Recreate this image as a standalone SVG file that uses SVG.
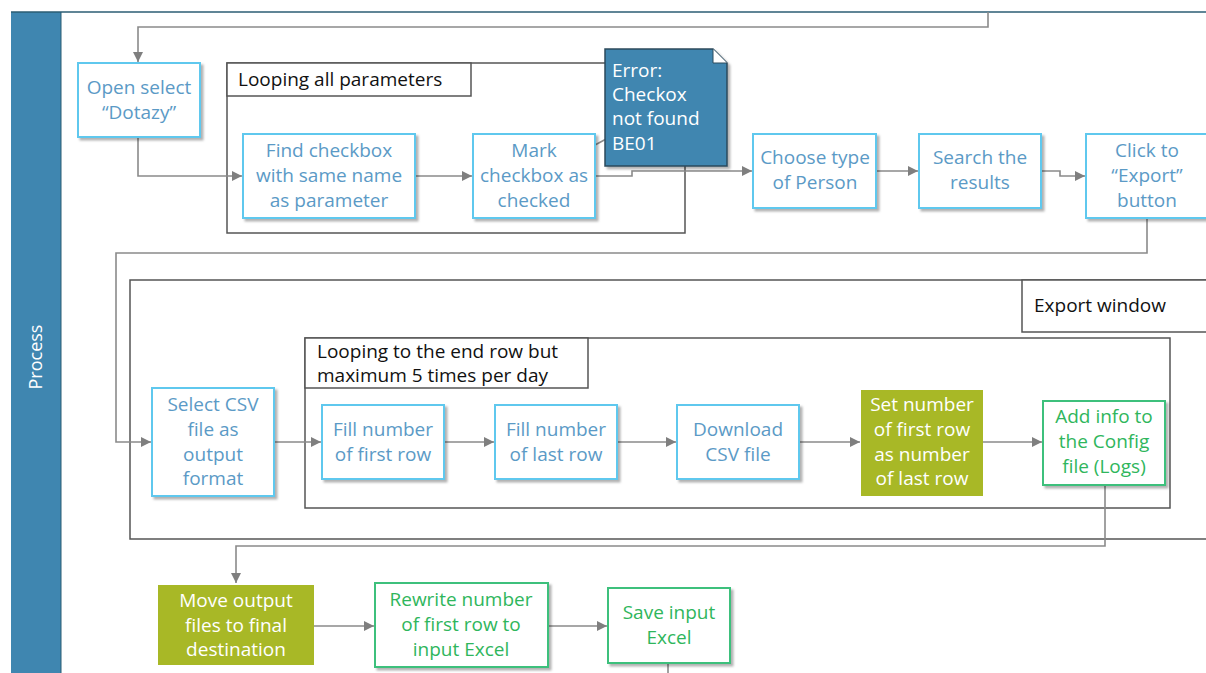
<svg xmlns="http://www.w3.org/2000/svg" width="1206" height="673" viewBox="0 0 1206 673">
<defs>
<filter id="sh" x="-10%" y="-10%" width="130%" height="130%">
<feDropShadow dx="2.5" dy="2.5" stdDeviation="1.2" flood-color="#000" flood-opacity="0.3"/>
</filter>
<marker id="ar" viewBox="0 0 10 10" refX="10" refY="5" markerWidth="10" markerHeight="10" markerUnits="userSpaceOnUse" orient="auto">
<path d="M0,0 L10,5 L0,10 z" fill="#7f7f7f"/>
</marker>
</defs>
<style>
text{font-family:"Open Sans","Noto Sans","Liberation Sans",sans-serif}
.b{fill:#fff;stroke:#5ec8ee;stroke-width:2;filter:url(#sh)}
.g{fill:#fff;stroke:#3cc07c;stroke-width:2;filter:url(#sh)}
.o{fill:#a8b826}
.bt{fill:#5b9ac6;font-size:19px;text-anchor:middle}
.gt{fill:#2fb65c;font-size:19px;text-anchor:middle}
.wt{fill:#fff;font-size:19px;text-anchor:middle}
.nt{fill:#fff;font-size:19px}
.lbl{fill:#111;font-size:19px}
.frame{fill:none;stroke:#555;stroke-width:1.5}
.lbox{fill:#fff;stroke:#555;stroke-width:1.5}
.c{fill:none;stroke:#8a8a8a;stroke-width:1.6}
</style>
<rect width="1206" height="673" fill="#fff"/>
<g id="lane">
<rect x="11" y="12" width="50" height="661" fill="#3f86b0"/>
<line x1="11" y1="12" x2="1206" y2="12" stroke="#2b5d73" stroke-width="1.5"/>
<line x1="61" y1="12" x2="61" y2="673" stroke="#2b5d73" stroke-width="1"/>
<text x="0" y="0" transform="translate(42,357) rotate(-90)" fill="#fff" font-size="18" text-anchor="middle">Process</text>
</g>
<g id="containers">
<rect class="frame" x="227" y="63" width="458" height="170"/>
<rect class="lbox" x="227" y="63" width="244" height="33"/>
<text class="lbl" x="238" y="86">Looping all parameters</text>
<rect class="frame" x="130" y="280" width="1090" height="259"/>
<rect class="lbox" x="1022" y="280" width="200" height="52"/>
<text class="lbl" x="1034" y="312">Export window</text>
<rect class="frame" x="305" y="338" width="865" height="170"/>
<rect class="lbox" x="305" y="338" width="283" height="50"/>
<text class="lbl" x="317" y="358">Looping to the end row but</text>
<text class="lbl" x="317" y="382">maximum 5 times per day</text>
</g>
<g id="connectors">
<path class="c" d="M988,12 V27 H138 V62" marker-end="url(#ar)"/>
<path class="c" d="M138,137 V176 H242" marker-end="url(#ar)"/>
<path class="c" d="M415,176 H472" marker-end="url(#ar)"/>
<path class="c" d="M595,176 H632 V171 H752" marker-end="url(#ar)"/>
<path class="c" d="M595,145 L608,138"/>
<path class="c" d="M876,171 H918" marker-end="url(#ar)"/>
<path class="c" d="M1041,171 H1060 V176 H1085" marker-end="url(#ar)"/>
<path class="c" d="M1147,218 V253 H116 V442 H151" marker-end="url(#ar)"/>
<path class="c" d="M274,442 H321" marker-end="url(#ar)"/>
<path class="c" d="M444,442 H494" marker-end="url(#ar)"/>
<path class="c" d="M617,442 H676" marker-end="url(#ar)"/>
<path class="c" d="M799,442 H860" marker-end="url(#ar)"/>
<path class="c" d="M983,442 H1042" marker-end="url(#ar)"/>
<path class="c" d="M1105,485 V546 H236 V583" marker-end="url(#ar)"/>
<path class="c" d="M314,626 H374" marker-end="url(#ar)"/>
<path class="c" d="M548,626 H607" marker-end="url(#ar)"/>
<path class="c" d="M668,663 V673"/>
</g>
<g id="n-open">
<rect class="b" x="78" y="63" width="122" height="74"/>
<text class="bt" x="139" y="94">Open select</text>
<text class="bt" x="139" y="119">“Dotazy”</text>
</g>
<g id="n-find">
<rect class="b" x="243" y="134" width="172" height="84"/>
<text class="bt" x="329" y="157">Find checkbox</text>
<text class="bt" x="329" y="182">with same name</text>
<text class="bt" x="329" y="207">as parameter</text>
</g>
<g id="n-mark">
<rect class="b" x="473" y="134" width="122" height="84"/>
<text class="bt" x="534" y="157">Mark</text>
<text class="bt" x="534" y="182">checkbox as</text>
<text class="bt" x="534" y="207">checked</text>
</g>
<g id="n-error">
<path d="M605,49 H713 L727,63 V166 H605 Z" fill="#3f86b0" stroke="#2b4a5c" stroke-width="1.5" filter="url(#sh)"/>
<path d="M713,49 V63 H727" fill="#fff" stroke="#2b4a5c" stroke-width="1"/>
<text class="nt" x="612" y="77">Error:</text>
<text class="nt" x="612" y="101">Checkox</text>
<text class="nt" x="612" y="125">not found</text>
<text class="nt" x="612" y="150">BE01</text>
</g>
<g id="n-choose">
<rect class="b" x="753" y="134" width="123" height="74"/>
<text class="bt" x="815" y="164">Choose type</text>
<text class="bt" x="815" y="189">of Person</text>
</g>
<g id="n-search">
<rect class="b" x="919" y="134" width="122" height="74"/>
<text class="bt" x="980" y="164">Search the</text>
<text class="bt" x="980" y="189">results</text>
</g>
<g id="n-export">
<rect class="b" x="1086" y="134" width="122" height="84"/>
<text class="bt" x="1147" y="157">Click to</text>
<text class="bt" x="1147" y="182">“Export”</text>
<text class="bt" x="1147" y="207">button</text>
</g>
<g id="n-select">
<rect class="b" x="152" y="388" width="122" height="108"/>
<text class="bt" x="213" y="411">Select CSV</text>
<text class="bt" x="213" y="436">file as</text>
<text class="bt" x="213" y="461">output</text>
<text class="bt" x="213" y="485">format</text>
</g>
<g id="n-fillfirst">
<rect class="b" x="322" y="405" width="122" height="74"/>
<text class="bt" x="383" y="436">Fill number</text>
<text class="bt" x="383" y="461">of first row</text>
</g>
<g id="n-filllast">
<rect class="b" x="495" y="405" width="122" height="74"/>
<text class="bt" x="556" y="436">Fill number</text>
<text class="bt" x="556" y="461">of last row</text>
</g>
<g id="n-download">
<rect class="b" x="677" y="405" width="122" height="74"/>
<text class="bt" x="738" y="436">Download</text>
<text class="bt" x="738" y="461">CSV file</text>
</g>
<g id="n-setnumber">
<rect class="o" x="861" y="390" width="122" height="106"/>
<text class="wt" x="922" y="411">Set number</text>
<text class="wt" x="922" y="436">of first row</text>
<text class="wt" x="922" y="461">as number</text>
<text class="wt" x="922" y="485">of last row</text>
</g>
<g id="n-addinfo">
<rect class="g" x="1043" y="401" width="122" height="84"/>
<text class="gt" x="1104" y="423">Add info to</text>
<text class="gt" x="1104" y="448">the Config</text>
<text class="gt" x="1104" y="473">file (Logs)</text>
</g>
<g id="n-move">
<rect class="o" x="158" y="585" width="156" height="80"/>
<text class="wt" x="236" y="607">Move output</text>
<text class="wt" x="236" y="632">files to final</text>
<text class="wt" x="236" y="656">destination</text>
</g>
<g id="n-rewrite">
<rect class="g" x="375" y="583" width="173" height="84"/>
<text class="gt" x="461" y="606">Rewrite number</text>
<text class="gt" x="461" y="631">of first row to</text>
<text class="gt" x="461" y="656">input Excel</text>
</g>
<g id="n-save">
<rect class="g" x="608" y="588" width="122" height="75"/>
<text class="gt" x="669" y="619">Save input</text>
<text class="gt" x="669" y="644">Excel</text>
</g>
</svg>
